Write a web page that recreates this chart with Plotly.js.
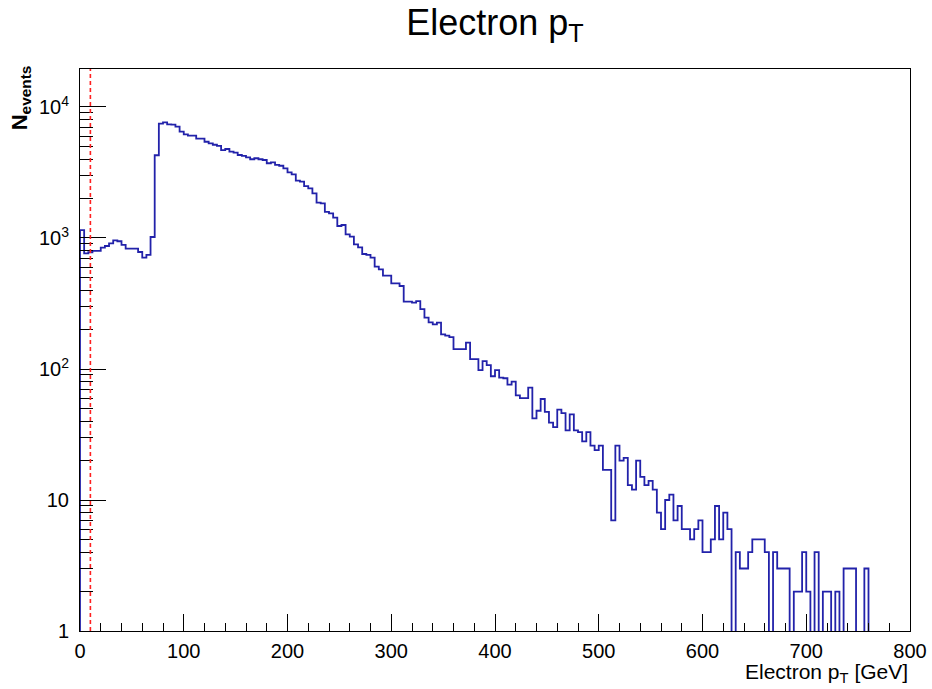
<!DOCTYPE html>
<html>
<head>
<meta charset="utf-8">
<script src="https://cdn.plot.ly/plotly-3.0.1.min.js"></script>
<style>
  html, body { margin: 0; padding: 0; background: #ffffff; }
  #chart { width: 932px; height: 689px; }
</style>
</head>
<body>
<div id="chart"></div>
<script>
// Histogram definition: 200 bins of 4 GeV from 0 to 800 GeV
const binLow = 0;
const binWidth = 4;

// Bin contents (events per bin)
const counts = [
  1150, 764, 778, 796, 796, 844, 869, 911, 960, 944,
  885, 829, 829, 829, 782, 707, 742, 1018, 4280, 7460,
  7640, 7380, 7330, 7080, 6480, 6190, 6040, 6040, 5730, 5730,
  5430, 5280, 5150, 5040, 4690, 4780, 4560, 4480, 4300, 4230,
  4130, 3990, 4060, 3990, 3940, 3720, 3780, 3610, 3560, 3405,
  3170, 3060, 2740, 2690, 2490, 2395, 2190, 1860, 1840, 1580,
  1540, 1430, 1235, 1257, 1067, 1023, 895, 849, 755, 742,
  707, 604, 577, 516, 516, 451, 451, 430, 327, 327,
  321, 330, 286, 247, 227, 219, 226, 184, 180, 175,
  142, 142, 142, 159, 119, 119, 98, 115, 107, 88,
  98, 86, 85, 76, 80, 63, 60, 60, 72, 42,
  48, 59, 47, 39, 36, 49, 46, 34, 45, 34,
  33, 28, 33, 26, 24, 26, 17, 17, 7, 26,
  20, 21, 13, 12, 20, 15, 13, 14, 12, 8,
  6, 10, 11, 7, 9, 6, 6, 5, 6, 7,
  4, 4, 5, 9, 5, 8, 6, 0, 4, 3,
  3, 4, 5, 5, 5, 4, 0, 4, 3, 3,
  3, 0, 2, 2, 4, 2, 0, 4, 0, 2,
  2, 0, 2, 0, 3, 3, 3, 0, 0, 3,
  0, 0, 0, 0, 0, 0, 0, 0, 0, 0
];

// Cut position marked by the red dashed line (GeV)
const cutValue = 10;

// Axis tick labels
const yTickVals = [1, 10, 100, 1000, 10000];
const yTickText = ['1', '10', '10<sup>2</sup>', '10<sup>3</sup>', '10<sup>4</sup>'];

// Build step outline (empty bins drop below the log-axis floor, like ROOT)
const floorVal = 0.3;
const xs = [binLow];
const ys = [floorVal];
counts.forEach((c, i) => {
  xs.push(binLow + i * binWidth);
  ys.push(c > 0 ? c : floorVal);
});
xs.push(binLow + counts.length * binWidth);
ys.push(floorVal);

const FONT = 'Liberation Sans, Arial, Helvetica, sans-serif';
const yRange = [0, 4.29];

const traces = [
  {
    type: 'scatter', mode: 'lines',
    x: xs, y: ys,
    line: { shape: 'hv', color: '#2222aa', width: 1.8 },
    hoverinfo: 'skip', showlegend: false
  },
  {
    type: 'scatter', mode: 'lines',
    x: [], y: [], yaxis: 'y2',
    hoverinfo: 'skip', showlegend: false
  }
];

const layout = {
  width: 932, height: 689,
  margin: { l: 80, r: 22, t: 69, b: 58, pad: 0 },
  paper_bgcolor: '#ffffff', plot_bgcolor: '#ffffff',
  font: { family: FONT, color: '#000000', size: 20 },
  showlegend: false,
  title: {
    text: 'Electron p<sub>T</sub>',
    font: { family: FONT, size: 36, color: '#000000' },
    x: 0.5, xref: 'paper', xanchor: 'center',
    y: 0.986, yref: 'container', yanchor: 'top'
  },
  xaxis: {
    range: [0, 800], showgrid: false, zeroline: false,
    showline: true, linecolor: '#000000', linewidth: 1, mirror: true,
    ticks: 'inside', ticklen: 17, tickwidth: 1, tickcolor: '#000000',
    tick0: 0, dtick: 100,
    tickfont: { family: FONT, size: 20, color: '#000000' },
    ticklabelstandoff: 2,
    minor: { dtick: 20, tick0: 0, ticks: 'inside', ticklen: 8, tickwidth: 1, tickcolor: '#000000', showgrid: false }
  },
  yaxis: {
    type: 'log', range: yRange, showgrid: false, zeroline: false,
    showline: true, linecolor: '#000000', linewidth: 1, mirror: true,
    ticks: 'inside', ticklen: 26, tickwidth: 1, tickcolor: '#000000',
    tickvals: yTickVals, ticktext: yTickText,
    tickfont: { family: FONT, size: 20, color: '#000000' },
    ticklabelstandoff: 6
  },
  yaxis2: {
    type: 'log', range: yRange, overlaying: 'y', side: 'left',
    showgrid: false, zeroline: false, showline: false,
    ticks: 'inside', ticklen: 13, tickwidth: 1, tickcolor: '#000000',
    dtick: 'D1', showticklabels: false
  },
  shapes: [
    {
      type: 'line', xref: 'x', yref: 'paper',
      x0: cutValue, x1: cutValue, y0: 0, y1: 1,
      line: { color: '#ff2020', width: 1.6, dash: '4px,3px' }
    }
  ],
  annotations: [
    {
      text: 'Electron p<sub>T</sub> [GeV]',
      xref: 'paper', yref: 'paper', x: 1, y: -0.048,
      xanchor: 'right', yanchor: 'top', showarrow: false,
      font: { family: FONT, size: 21, color: '#000000' }
    },
    {
      text: '<b>N<sub>events</sub></b>',
      xref: 'paper', yref: 'paper', x: -0.071, y: 0.948,
      xanchor: 'center', yanchor: 'middle', textangle: -90, showarrow: false,
      font: { family: FONT, size: 22, color: '#000000' }
    }
  ]
};

Plotly.newPlot('chart', traces, layout, { staticPlot: true, displayModeBar: false });
</script>
</body>
</html>
